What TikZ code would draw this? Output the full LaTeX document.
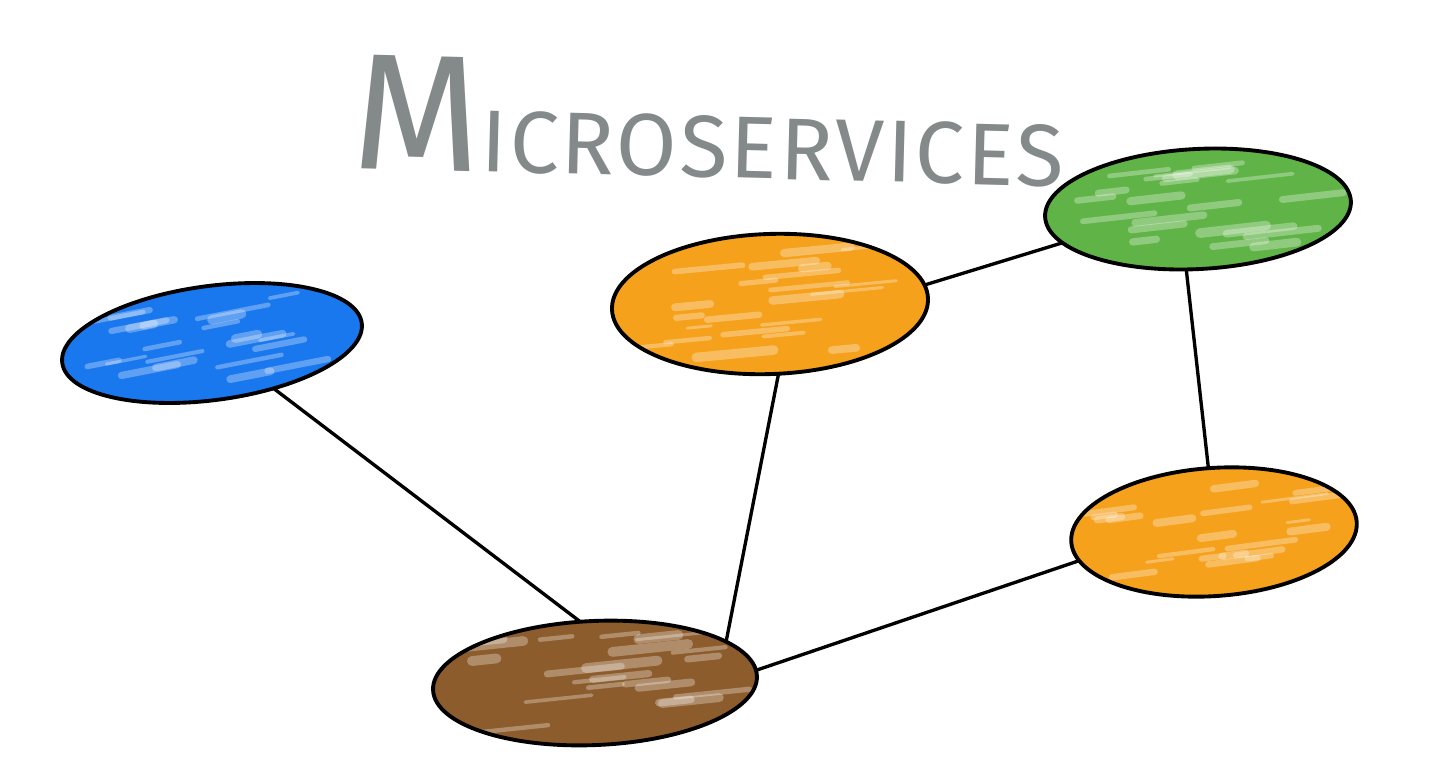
\documentclass[tikz,border=0pt]{standalone}
\usepackage{fontspec}
\setmainfont{Fira Sans}
\usetikzlibrary{shapes.geometric}
\definecolor{svcblue}{HTML}{1A78EE}
\definecolor{svcorange}{HTML}{F6A11C}
\definecolor{svcgreen}{HTML}{60B447}
\definecolor{svcbrown}{HTML}{8D5C2C}
\definecolor{titlegray}{HTML}{848989}
\newcommand\svcfill[6]{%
  \begin{scope}
    \clip[rotate around={#5:(#1,#2)}] (#1,#2) ellipse [x radius=#3, y radius=#4];
    \fill[#6] (#1-#3-20,#2-#4-20) rectangle (#1+#3+20,#2+#4+20);
    \begin{scope}[shift={(#1,#2)}, rotate=#5]
      \foreach \k in {1,...,22}{
        \pgfmathsetmacro\sx{(rnd-0.6)*1.5*#3}
        \pgfmathsetmacro\sy{(rnd-0.5)*1.5*#4}
        \pgfmathsetmacro\sl{(0.15+0.35*rnd)*#3}
        \pgfmathsetmacro\sw{0.8+2.0*rnd}
        \draw[white, opacity=0.3, line width=\sw pt, line cap=round] (\sx,\sy) -- ++(\sl,-0.06*\sl);
      }
    \end{scope}
  \end{scope}}
\begin{document}
\begin{tikzpicture}[x=0.01cm, y=-0.01cm,
  svc/.style={ellipse, draw=black, line width=1.1pt, inner sep=0pt, outer sep=0pt},
  link/.style={draw=black, line width=0.95pt},
  titletext/.style={text=titlegray, inner sep=0pt, outer sep=0pt}]
\useasboundingbox (0,0) rectangle (1456,778);
\pgfmathsetseed{11}
% crayon fills
\svcfill{212}{343}{151}{57}{7.6}{svcblue}
\svcfill{770}{304}{158}{70}{2}{svcorange}
\svcfill{1198}{209}{153}{60}{3}{svcgreen}
\svcfill{1214}{532}{143}{64}{4}{svcorange}
\svcfill{595}{683}{162}{62}{2.5}{svcbrown}
% outlines
\node[svc, rotate=7.6, minimum width=3.02cm, minimum height=1.14cm] (blue) at (212,343) {};
\node[svc, rotate=2, minimum width=3.16cm, minimum height=1.40cm] (orangetop) at (770,304) {};
\node[svc, rotate=3, minimum width=3.06cm, minimum height=1.20cm] (green) at (1198,209) {};
\node[svc, rotate=4, minimum width=2.86cm, minimum height=1.28cm] (orangeright) at (1214,532) {};
\node[svc, rotate=2.5, minimum width=3.24cm, minimum height=1.24cm] (brown) at (595,683) {};
% links
\draw[link] (blue.316) -- (brown.101);
\draw[link] (orangetop.275) -- (brown.15);
\draw[link] (green.191) -- (orangetop.5);
\draw[link] (green.256) -- (orangeright.91);
\draw[link] (orangeright.188) -- (brown.2);
% title
\node[titletext, anchor=base west, rotate=-1.5] (title) at (352,168)
  {{\fontsize{47}{47}\selectfont M}{\fontsize{25}{25}\selectfont\addfontfeatures{LetterSpace=3}ICROSERVICES}};
\end{tikzpicture}
\end{document}
